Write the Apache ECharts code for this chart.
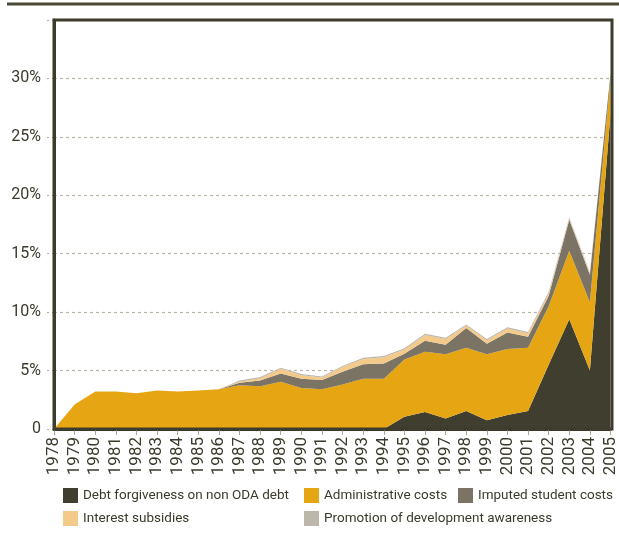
<!DOCTYPE html>
<html>
<head>
<meta charset="utf-8">
<script src="https://cdn.jsdelivr.net/npm/echarts@6/dist/echarts.min.js"></script>
<style>
  html, body { margin: 0; padding: 0; background: #fff; }
  #chart { width: 619px; height: 542px; }
</style>
</head>
<body>
<div id="chart"></div>
<script>
// years on the x axis
var years = ['1978', '1979', '1980', '1981', '1982', '1983', '1984', '1985', '1986', '1987',
  '1988', '1989', '1990', '1991', '1992', '1993', '1994', '1995', '1996', '1997',
  '1998', '1999', '2000', '2001', '2002', '2003', '2004', '2005']

// shares in %, stacked bottom to top
var debtForgiveness = [0, 0, 0, 0, 0, 0, 0, 0, 0, 0, 0, 0, 0, 0, 0, 0, 0,
  1.05, 1.45, 0.9, 1.55, 0.75, 1.2, 1.55, 5.5, 9.4, 5.0, 27.0]
var adminCosts = [0, 2.1, 3.2, 3.2, 3.05, 3.3, 3.2, 3.3, 3.4, 3.75, 3.65, 4.05, 3.5, 3.4,
  3.8, 4.3, 4.3, 4.9, 5.15, 5.5, 5.4, 5.65, 5.65, 5.4, 5.0, 5.85, 5.85, 3.0]
var studentCosts = [0, 0, 0, 0, 0, 0, 0, 0, 0, 0.2, 0.5, 0.7, 0.8, 0.8, 1.1, 1.25, 1.3,
  0.5, 0.95, 0.8, 1.7, 0.9, 1.4, 0.95, 0.9, 2.65, 2.35, 0.4]
var interestSubsidies = [0, 0, 0, 0, 0, 0, 0, 0, 0, 0.1, 0.2, 0.4, 0.3, 0.2, 0.4, 0.45, 0.55,
  0.35, 0.5, 0.5, 0.2, 0.3, 0.35, 0.3, 0.2, 0.1, 0.1, 0.1]
var promotion = [0, 0, 0, 0, 0, 0, 0, 0, 0, 0.1, 0.1, 0.1, 0.1, 0.1, 0.1, 0.1, 0.1,
  0.1, 0.1, 0.1, 0.1, 0.1, 0.1, 0.1, 0.15, 0.1, 0.1, 0.15]

var seriesNames = ['Debt forgiveness on non ODA debt', 'Administrative costs',
  'Imputed student costs', 'Interest subsidies', 'Promotion of development awareness']
var seriesColors = ['#403e2e', '#e6a614', '#7b7363', '#f4ca8a', '#bdb6ab']
var seriesData = [debtForgiveness, adminCosts, studentCosts, interestSubsidies, promotion]

var font = "Roboto, 'Liberation Sans', sans-serif"
var textColor = '#3b3a2c'

var myChart = echarts.init(document.getElementById('chart'), null, { renderer: 'canvas' })

var series = []
for (var i = 0; i < seriesNames.length; i++) {
  series.push({
    name: seriesNames[i],
    type: 'line',
    stack: 'total',
    symbol: 'none',
    smooth: false,
    lineStyle: { width: 0 },
    itemStyle: { color: seriesColors[i] },
    areaStyle: { color: seriesColors[i], opacity: 1 },
    data: seriesData[i]
  })
}

// one legend per item so each can sit where the original has it
var legendPos = [[63, 488], [304, 488], [458, 488], [63, 511], [304, 511]]
var legends = []
for (var j = 0; j < seriesNames.length; j++) {
  legends.push({
    left: legendPos[j][0],
    top: legendPos[j][1],
    padding: 0,
    icon: 'rect',
    itemWidth: 15,
    itemHeight: 15,
    itemGap: 5,
    selectedMode: false,
    data: [seriesNames[j]],
    textStyle: { fontFamily: font, fontSize: 13.5, color: textColor }
  })
}

var option = {
  animation: false,
  backgroundColor: '#fff',
  color: seriesColors,
  legend: legends,
  graphic: [{
    type: 'line',
    shape: { x1: 7, y1: 4, x2: 619, y2: 4 },
    style: { stroke: '#4b4a36', lineWidth: 3 }
  }, {
    // dark frame round the plot, drawn above the grid lines
    type: 'rect',
    z: 100,
    shape: { x: 54, y: 20, width: 558, height: 409 },
    style: { fill: 'none', stroke: '#3d3b2b', lineWidth: 3 }
  }],
  grid: {
    left: 54,
    right: 7,
    top: 20,
    bottom: 113,
    containLabel: false
  },
  xAxis: {
    type: 'category',
    boundaryGap: false,
    data: years,
    axisLine: { lineStyle: { color: '#3d3b2b', width: 3 } },
    axisTick: { show: true, length: 6, lineStyle: { color: '#aaa698', width: 1 } },
    axisLabel: {
      interval: 0,
      rotate: 90,
      margin: 8,
      fontFamily: font,
      fontSize: 17,
      color: textColor
    },
    splitLine: { show: false }
  },
  yAxis: {
    type: 'value',
    min: 0,
    max: 35,
    interval: 5,
    axisLine: { show: true, lineStyle: { color: '#3d3b2b', width: 3 } },
    axisTick: { show: true, length: 9, lineStyle: { color: '#b0ac9f', width: 1.2, type: [2, 3] } },
    axisLabel: {
      margin: 13,
      fontFamily: font,
      fontSize: 16,
      color: textColor,
      formatter: function (v) {
        if (v === 0) return '0'
        if (v === 35) return ''
        return v + '%'
      }
    },
    splitLine: { show: true, lineStyle: { color: '#b9b5a9', width: 1.2, type: [3, 3] } }
  },
  series: series
}

myChart.setOption(option)
</script>
</body>
</html>
